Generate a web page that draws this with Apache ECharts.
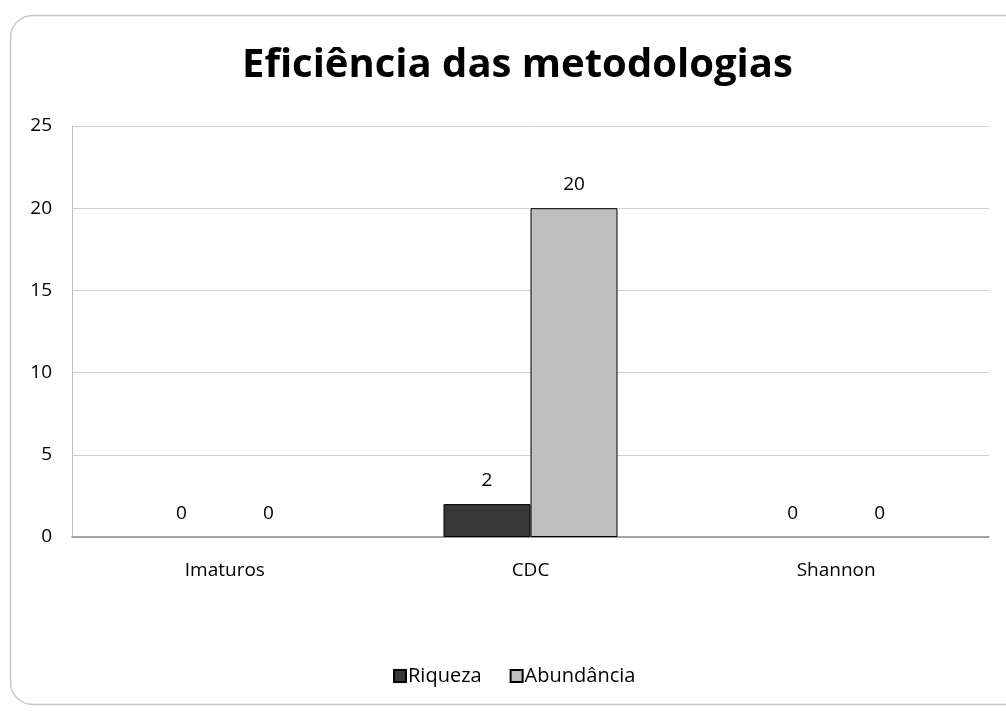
<!DOCTYPE html>
<html>
<head>
<meta charset="utf-8">
<script src="https://cdn.jsdelivr.net/npm/echarts@6/dist/echarts.min.js"></script>
<style>
  html, body { margin: 0; padding: 0; background: #fff; }
  #chart { width: 1006px; height: 711px; }
</style>
</head>
<body>
<div id="chart"></div>
<script>
const categories = ['Imaturos', 'CDC', 'Shannon'];
const riqueza = [0, 2, 0];
const abundancia = [0, 20, 0];
const yTicks = { min: 0, max: 25, interval: 5 };

const font = '"Open Sans", "DejaVu Sans", sans-serif';
const chart = echarts.init(document.getElementById('chart'));

const labelStyle = {
  show: true,
  position: 'top',
  distance: 14,
  fontFamily: font,
  fontSize: 19,
  color: '#000'
};

// zero-height bars carry no outline, only their value label
const toItems = (values) => values.map(v => (v === 0 ? { value: v, itemStyle: { borderWidth: 0 } } : v));

chart.setOption({
  animation: false,
  backgroundColor: '#fff',
  graphic: [{
    type: 'rect',
    shape: { x: 10.5, y: 15.5, width: 1040, height: 689, r: 22 },
    style: { fill: 'none', stroke: '#c8c8c8', lineWidth: 1.5 },
    z: -1
  }],
  title: {
    text: 'Eficiência das metodologias',
    left: 237,
    top: 41,
    textStyle: { fontFamily: font, fontWeight: 'bold', fontSize: 40, color: '#000' }
  },
  legend: {
    bottom: 20,
    left: 388,
    itemWidth: 12,
    itemHeight: 12,
    itemGap: 28,
    icon: 'rect',
    textStyle: { fontFamily: font, fontSize: 20, color: '#000', padding: [0, 0, 0, -3] },
    data: ['Riqueza', 'Abundância']
  },
  grid: { left: 72, right: 17, top: 126, bottom: 174, containLabel: false },
  xAxis: {
    type: 'category',
    data: categories,
    axisLine: { lineStyle: { color: '#8c8c8c', width: 1.5 } },
    axisTick: { show: false },
    axisLabel: { margin: 24, fontFamily: font, fontSize: 19, color: '#000' }
  },
  yAxis: {
    type: 'value',
    min: yTicks.min,
    max: yTicks.max,
    interval: yTicks.interval,
    axisLine: { show: true, lineStyle: { color: '#bdbdbd', width: 1 } },
    axisTick: { show: false },
    splitLine: { lineStyle: { color: '#d0d0d0', width: 1 } },
    axisLabel: { margin: 20, fontFamily: font, fontSize: 19, color: '#000' }
  },
  series: [
    {
      name: 'Riqueza',
      type: 'bar',
      data: toItems(riqueza),
      barWidth: 87,
      barGap: '0%',
      itemStyle: { color: '#383838', borderColor: '#000', borderWidth: 1 },
      label: labelStyle
    },
    {
      name: 'Abundância',
      type: 'bar',
      data: toItems(abundancia),
      barWidth: 87,
      barGap: '0%',
      itemStyle: { color: '#bfbfbf', borderColor: '#000', borderWidth: 1 },
      label: labelStyle
    }
  ]
});
</script>
</body>
</html>
